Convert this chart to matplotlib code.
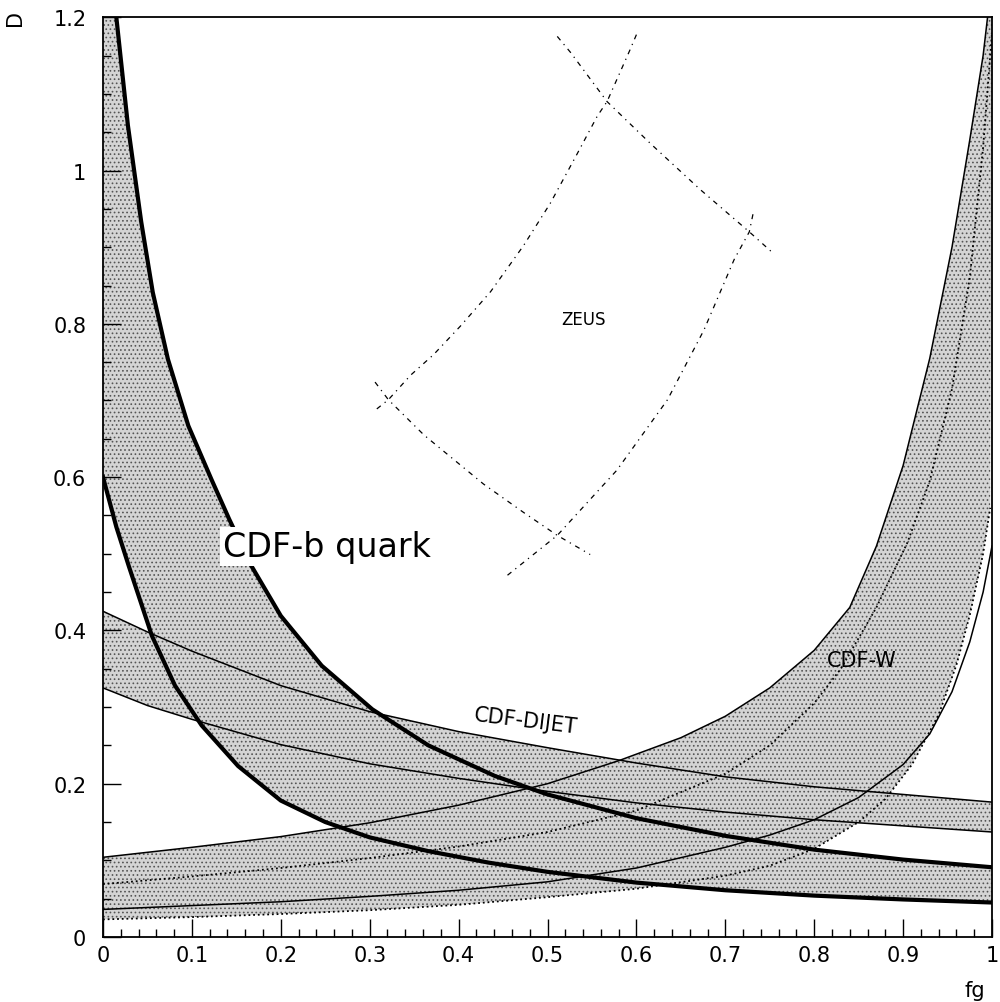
import numpy as np
import matplotlib.pyplot as plt
from matplotlib.ticker import MultipleLocator, FuncFormatter

# CDF-b quark band (thick lines)
bq_hi_x = [0.015, 0.028, 0.043, 0.056, 0.073, 0.096, 0.122, 0.142, 0.167, 0.2,
           0.246, 0.303, 0.366, 0.441, 0.5, 0.6, 0.7, 0.8, 0.9, 1.0]
bq_hi_y = [1.2, 1.059, 0.933, 0.841, 0.754, 0.667, 0.597, 0.545, 0.484, 0.419,
           0.354, 0.297, 0.25, 0.21, 0.186, 0.155, 0.132, 0.114, 0.101, 0.091]
bq_lo_x = [0.0, 0.015, 0.029, 0.055, 0.081, 0.111, 0.152, 0.2, 0.25, 0.3, 0.366,
           0.434, 0.5, 0.6, 0.7, 0.8, 0.9, 1.0]
bq_lo_y = [0.6, 0.535, 0.484, 0.393, 0.328, 0.276, 0.223, 0.178, 0.150, 0.130,
           0.112, 0.097, 0.085, 0.071, 0.061, 0.054, 0.049, 0.045]

# CDF-DIJET band (thin lines)
dj_x = [0.0, 0.05, 0.1, 0.2, 0.3, 0.4, 0.5, 0.6, 0.7, 0.8, 0.9, 1.0]
dj_hi = [0.425, 0.398, 0.373, 0.328, 0.294, 0.268, 0.247, 0.227, 0.209, 0.196, 0.186, 0.176]
dj_lo = [0.325, 0.302, 0.284, 0.251, 0.226, 0.207, 0.19, 0.175, 0.163, 0.153, 0.145, 0.137]

# CDF-W band
w_hi_x = [0.0, 0.1, 0.2, 0.3, 0.4, 0.5, 0.58, 0.65, 0.7, 0.75, 0.8, 0.84, 0.87,
          0.9, 0.93, 0.955, 0.975, 0.99, 0.995]
w_hi_y = [0.104, 0.117, 0.131, 0.149, 0.172, 0.2, 0.23, 0.26, 0.288, 0.325, 0.374,
          0.43, 0.51, 0.615, 0.755, 0.9, 1.04, 1.15, 1.2]
w_mid_x = [0.0, 0.1, 0.2, 0.3, 0.4, 0.5, 0.6, 0.7, 0.75, 0.8, 0.83, 0.87, 0.905,
           0.93, 0.955, 0.975, 0.99, 1.0]
w_mid_y = [0.069, 0.079, 0.09, 0.103, 0.118, 0.137, 0.165, 0.213, 0.25, 0.305, 0.35,
           0.43, 0.515, 0.595, 0.715, 0.86, 1.03, 1.18]
w_lo_x = [0.0, 0.1, 0.2, 0.3, 0.4, 0.5, 0.6, 0.7, 0.75, 0.8, 0.85, 0.9, 0.93,
          0.955, 0.975, 0.99, 1.0]
w_lo_y = [0.036, 0.041, 0.046, 0.053, 0.061, 0.072, 0.09, 0.117, 0.133, 0.153,
          0.182, 0.225, 0.265, 0.32, 0.385, 0.45, 0.51]
w_lod_x = [0.0, 0.1, 0.2, 0.3, 0.4, 0.5, 0.6, 0.7, 0.75, 0.8, 0.85, 0.88, 0.91,
           0.94, 0.96, 0.975, 0.99, 0.998]
w_lod_y = [0.023, 0.026, 0.03, 0.035, 0.042, 0.052, 0.063, 0.08, 0.093, 0.115,
           0.15, 0.18, 0.225, 0.29, 0.355, 0.42, 0.5, 0.56]

# ZEUS contour (four dash-dot arcs)
z1_x = [0.308, 0.321, 0.346, 0.372, 0.402, 0.436, 0.473, 0.503, 0.533, 0.556, 0.567, 0.593, 0.601]
z1_y = [0.689, 0.701, 0.733, 0.760, 0.797, 0.842, 0.902, 0.957, 1.021, 1.071, 1.09, 1.158, 1.18]
z2_x = [0.306, 0.321, 0.361, 0.428, 0.473, 0.511, 0.548]
z2_y = [0.724, 0.701, 0.655, 0.591, 0.554, 0.524, 0.499]
z3_x = [0.511, 0.526, 0.567, 0.616, 0.672, 0.727, 0.753]
z3_y = [1.175, 1.154, 1.09, 1.035, 0.975, 0.92, 0.893]
z4_x = [0.455, 0.511, 0.578, 0.635, 0.676, 0.71, 0.727, 0.732]
z4_y = [0.472, 0.524, 0.609, 0.701, 0.792, 0.884, 0.92, 0.948]

xmin, xmax, ymin, ymax = 0.0, 1.0, 0.0, 1.2

plt.rcParams['hatch.linewidth'] = 0.7
fig = plt.figure(figsize=(10, 10.03), dpi=100)
ax = fig.add_axes([0.103, 0.0648, 0.889, 0.917])

band = dict(facecolor='#d4d4d4', edgecolor='#555555', hatch='....', lw=0, zorder=1)
ax.fill([xmin] + bq_hi_x + bq_lo_x[::-1], [ymax] + bq_hi_y + bq_lo_y[::-1], **band)
ax.fill(dj_x + dj_x[::-1], dj_hi + dj_lo[::-1], **band)
ax.fill(w_hi_x + [xmax] + w_lod_x[::-1], w_hi_y + [ymax] + w_lod_y[::-1], **band)

ax.plot(bq_hi_x, bq_hi_y, color='k', lw=3.0, zorder=3)
ax.plot(bq_lo_x, bq_lo_y, color='k', lw=3.0, zorder=3)
ax.plot(dj_x, dj_hi, color='k', lw=1.1, zorder=3)
ax.plot(dj_x, dj_lo, color='k', lw=1.1, zorder=3)
ax.plot(w_hi_x, w_hi_y, color='k', lw=1.1, zorder=3)
ax.plot(w_lo_x, w_lo_y, color='k', lw=1.1, zorder=3)
ax.plot(w_mid_x, w_mid_y, color='k', lw=1.3, ls=(0, (1, 1.6)), zorder=3)
ax.plot(w_lod_x, w_lod_y, color='k', lw=1.3, ls=(0, (1, 1.6)), zorder=3)

zs = (0, (4, 4, 1, 4))
for zx, zy in [(z1_x, z1_y), (z2_x, z2_y), (z3_x, z3_y), (z4_x, z4_y)]:
    ax.plot(zx, zy, color='k', lw=0.9, ls=zs, zorder=3)

ax.text(0.135, 0.497, 'CDF-b quark', fontsize=24, zorder=5,
        bbox=dict(facecolor='white', edgecolor='none', pad=2))
ax.text(0.54, 0.806, 'ZEUS', fontsize=12, ha='center', va='center', zorder=5)
ax.text(0.475, 0.283, 'CDF-DIJET', fontsize=15, ha='center', va='center',
        rotation=-7, zorder=5)
ax.text(0.853, 0.361, 'CDF-W', fontsize=15, ha='center', va='center', zorder=5)

ax.set_xlim(xmin, xmax)
ax.set_ylim(ymin, ymax)
ax.xaxis.set_major_locator(MultipleLocator(0.1))
ax.xaxis.set_minor_locator(MultipleLocator(0.02))
ax.yaxis.set_major_locator(MultipleLocator(0.2))
ax.yaxis.set_minor_locator(MultipleLocator(0.05))
fmt = FuncFormatter(lambda v, p: '%g' % round(v, 2))
ax.xaxis.set_major_formatter(fmt)
ax.yaxis.set_major_formatter(fmt)
ax.tick_params(which='both', direction='in', top=False, right=False, width=1.0)
ax.tick_params(which='major', length=13, labelsize=15)
ax.tick_params(axis='x', which='major', pad=6)
ax.tick_params(axis='y', which='major', pad=12)
ax.tick_params(which='minor', length=6)
for s in ax.spines.values():
    s.set_linewidth(1.3)

fig.text(0.015, 0.982, 'D', fontsize=15, rotation=90, ha='center', va='center')
fig.text(0.975, 0.012, 'fg', fontsize=15, ha='center', va='center')

fig.savefig('out.png', dpi=100)
